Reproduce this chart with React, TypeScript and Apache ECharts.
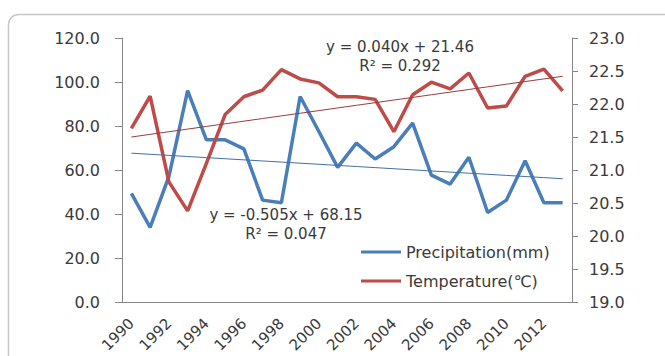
import React, { useEffect, useRef } from "react";
import * as echarts from "echarts";

const years = ["1990","1991","1992","1993","1994","1995","1996","1997","1998","1999","2000","2001","2002","2003","2004","2005","2006","2007","2008","2009","2010","2011","2012","2013"];
const precipitation = [49.4, 33.9, 57.0, 96.1, 73.7, 73.7, 69.6, 46.3, 45.1, 93.4, 77.5, 61.2, 72.2, 65.0, 70.6, 81.3, 57.7, 53.6, 65.8, 40.7, 46.3, 64.2, 45.1, 45.1];
const temperature = [21.63, 22.12, 20.82, 20.38, 21.10, 21.84, 22.11, 22.21, 22.52, 22.38, 22.32, 22.11, 22.11, 22.07, 21.58, 22.14, 22.33, 22.23, 22.47, 21.94, 21.97, 22.42, 22.53, 22.20];

const precipSlope = -0.505;
const precipIntercept = 68.15;
const precipR2 = "0.047";
const tempSlope = 0.04;
const tempIntercept = 21.46;
const tempR2 = "0.292";

const seriesNames = ["Precipitation(mm)", "Temperature(℃)"];
const precipTrend = years.map((_, i) => precipSlope * (i + 1) + precipIntercept);
const tempTrend = years.map((_, i) => tempSlope * (i + 1) + tempIntercept);

const FONT = "DejaVu Sans";
const TXT = "#3a3a3a";
const AXIS = "#868686";

export default function App() {
  const ref = useRef<HTMLDivElement>(null);
  useEffect(() => {
    if (!ref.current) return;
    const chart = echarts.init(ref.current, null, { renderer: "svg" });
    chart.setOption({
      animation: false,
      backgroundColor: "#ffffff",
      textStyle: { fontFamily: FONT },
      grid: { left: 122, right: 93, top: 38, bottom: 54 },
      legend: {
        data: seriesNames,
        orient: "vertical",
        left: 356,
        top: 239,
        icon: "rect",
        itemWidth: 40,
        itemHeight: 3,
        itemGap: 13,
        textStyle: { fontFamily: FONT, fontSize: 16, color: TXT },
      },
      xAxis: {
        type: "category",
        data: years,
        boundaryGap: true,
        axisLine: { lineStyle: { color: AXIS, width: 1 } },
        axisTick: { interval: 0, length: 4, lineStyle: { color: AXIS } },
        axisLabel: { interval: 1, rotate: 45, margin: 19, fontSize: 15, color: TXT, fontFamily: FONT },
        splitLine: { show: false },
      },
      yAxis: [
        {
          type: "value",
          min: 0,
          max: 120,
          interval: 20,
          axisLine: { show: true, lineStyle: { color: AXIS, width: 1 } },
          axisTick: { show: true, length: 7, lineStyle: { color: AXIS } },
          axisLabel: { margin: 22, fontSize: 16, color: TXT, fontFamily: FONT, formatter: (v: number) => v.toFixed(1) },
          splitLine: { show: false },
        },
        {
          type: "value",
          min: 19,
          max: 23,
          interval: 0.5,
          position: "right",
          axisLine: { show: true, lineStyle: { color: AXIS, width: 1 } },
          axisTick: { show: true, length: 6, lineStyle: { color: AXIS } },
          axisLabel: { margin: 17, fontSize: 16, color: TXT, fontFamily: FONT, formatter: (v: number) => v.toFixed(1) },
          splitLine: { show: false },
        },
      ],
      series: [
        {
          name: seriesNames[0],
          type: "line",
          yAxisIndex: 0,
          data: precipitation,
          symbol: "none",
          color: "#4a7ebb",
          lineStyle: { color: "#4a7ebb", width: 3.5 },
        },
        {
          name: seriesNames[1],
          type: "line",
          yAxisIndex: 1,
          data: temperature,
          symbol: "none",
          color: "#be4b48",
          lineStyle: { color: "#be4b48", width: 3.5 },
        },
        {
          name: "Precipitation trend",
          type: "line",
          yAxisIndex: 0,
          data: precipTrend,
          symbol: "none",
          lineStyle: { color: "#3f6fa8", width: 1 },
        },
        {
          name: "Temperature trend",
          type: "line",
          yAxisIndex: 1,
          data: tempTrend,
          symbol: "none",
          lineStyle: { color: "#9b3b3b", width: 1 },
        },
      ],
      graphic: [
        {
          type: "rect",
          silent: true,
          z: -10,
          shape: { x: 8.5, y: 14.5, width: 700, height: 400, r: 10 },
          style: { fill: "none", stroke: "#c6c6ce", lineWidth: 1.5 },
        },
        {
          type: "text",
          x: 400,
          y: 47,
          style: { text: `y = ${tempSlope.toFixed(3)}x + ${tempIntercept.toFixed(2)}`, font: `15px "${FONT}"`, fill: TXT, textAlign: "center", textVerticalAlign: "middle" },
        },
        {
          type: "text",
          x: 400,
          y: 66,
          style: { text: `R² = ${tempR2}`, font: `15px "${FONT}"`, fill: TXT, textAlign: "center", textVerticalAlign: "middle" },
        },
        {
          type: "text",
          x: 286,
          y: 215,
          style: { text: `y = ${precipSlope.toFixed(3)}x + ${precipIntercept.toFixed(2)}`, font: `15px "${FONT}"`, fill: TXT, textAlign: "center", textVerticalAlign: "middle" },
        },
        {
          type: "text",
          x: 286,
          y: 234,
          style: { text: `R² = ${precipR2}`, font: `15px "${FONT}"`, fill: TXT, textAlign: "center", textVerticalAlign: "middle" },
        },
      ],
    });
    return () => chart.dispose();
  }, []);
  return <div ref={ref} style={{ position: "absolute", left: 0, top: 0, width: 665, height: 356 }} />;
}
